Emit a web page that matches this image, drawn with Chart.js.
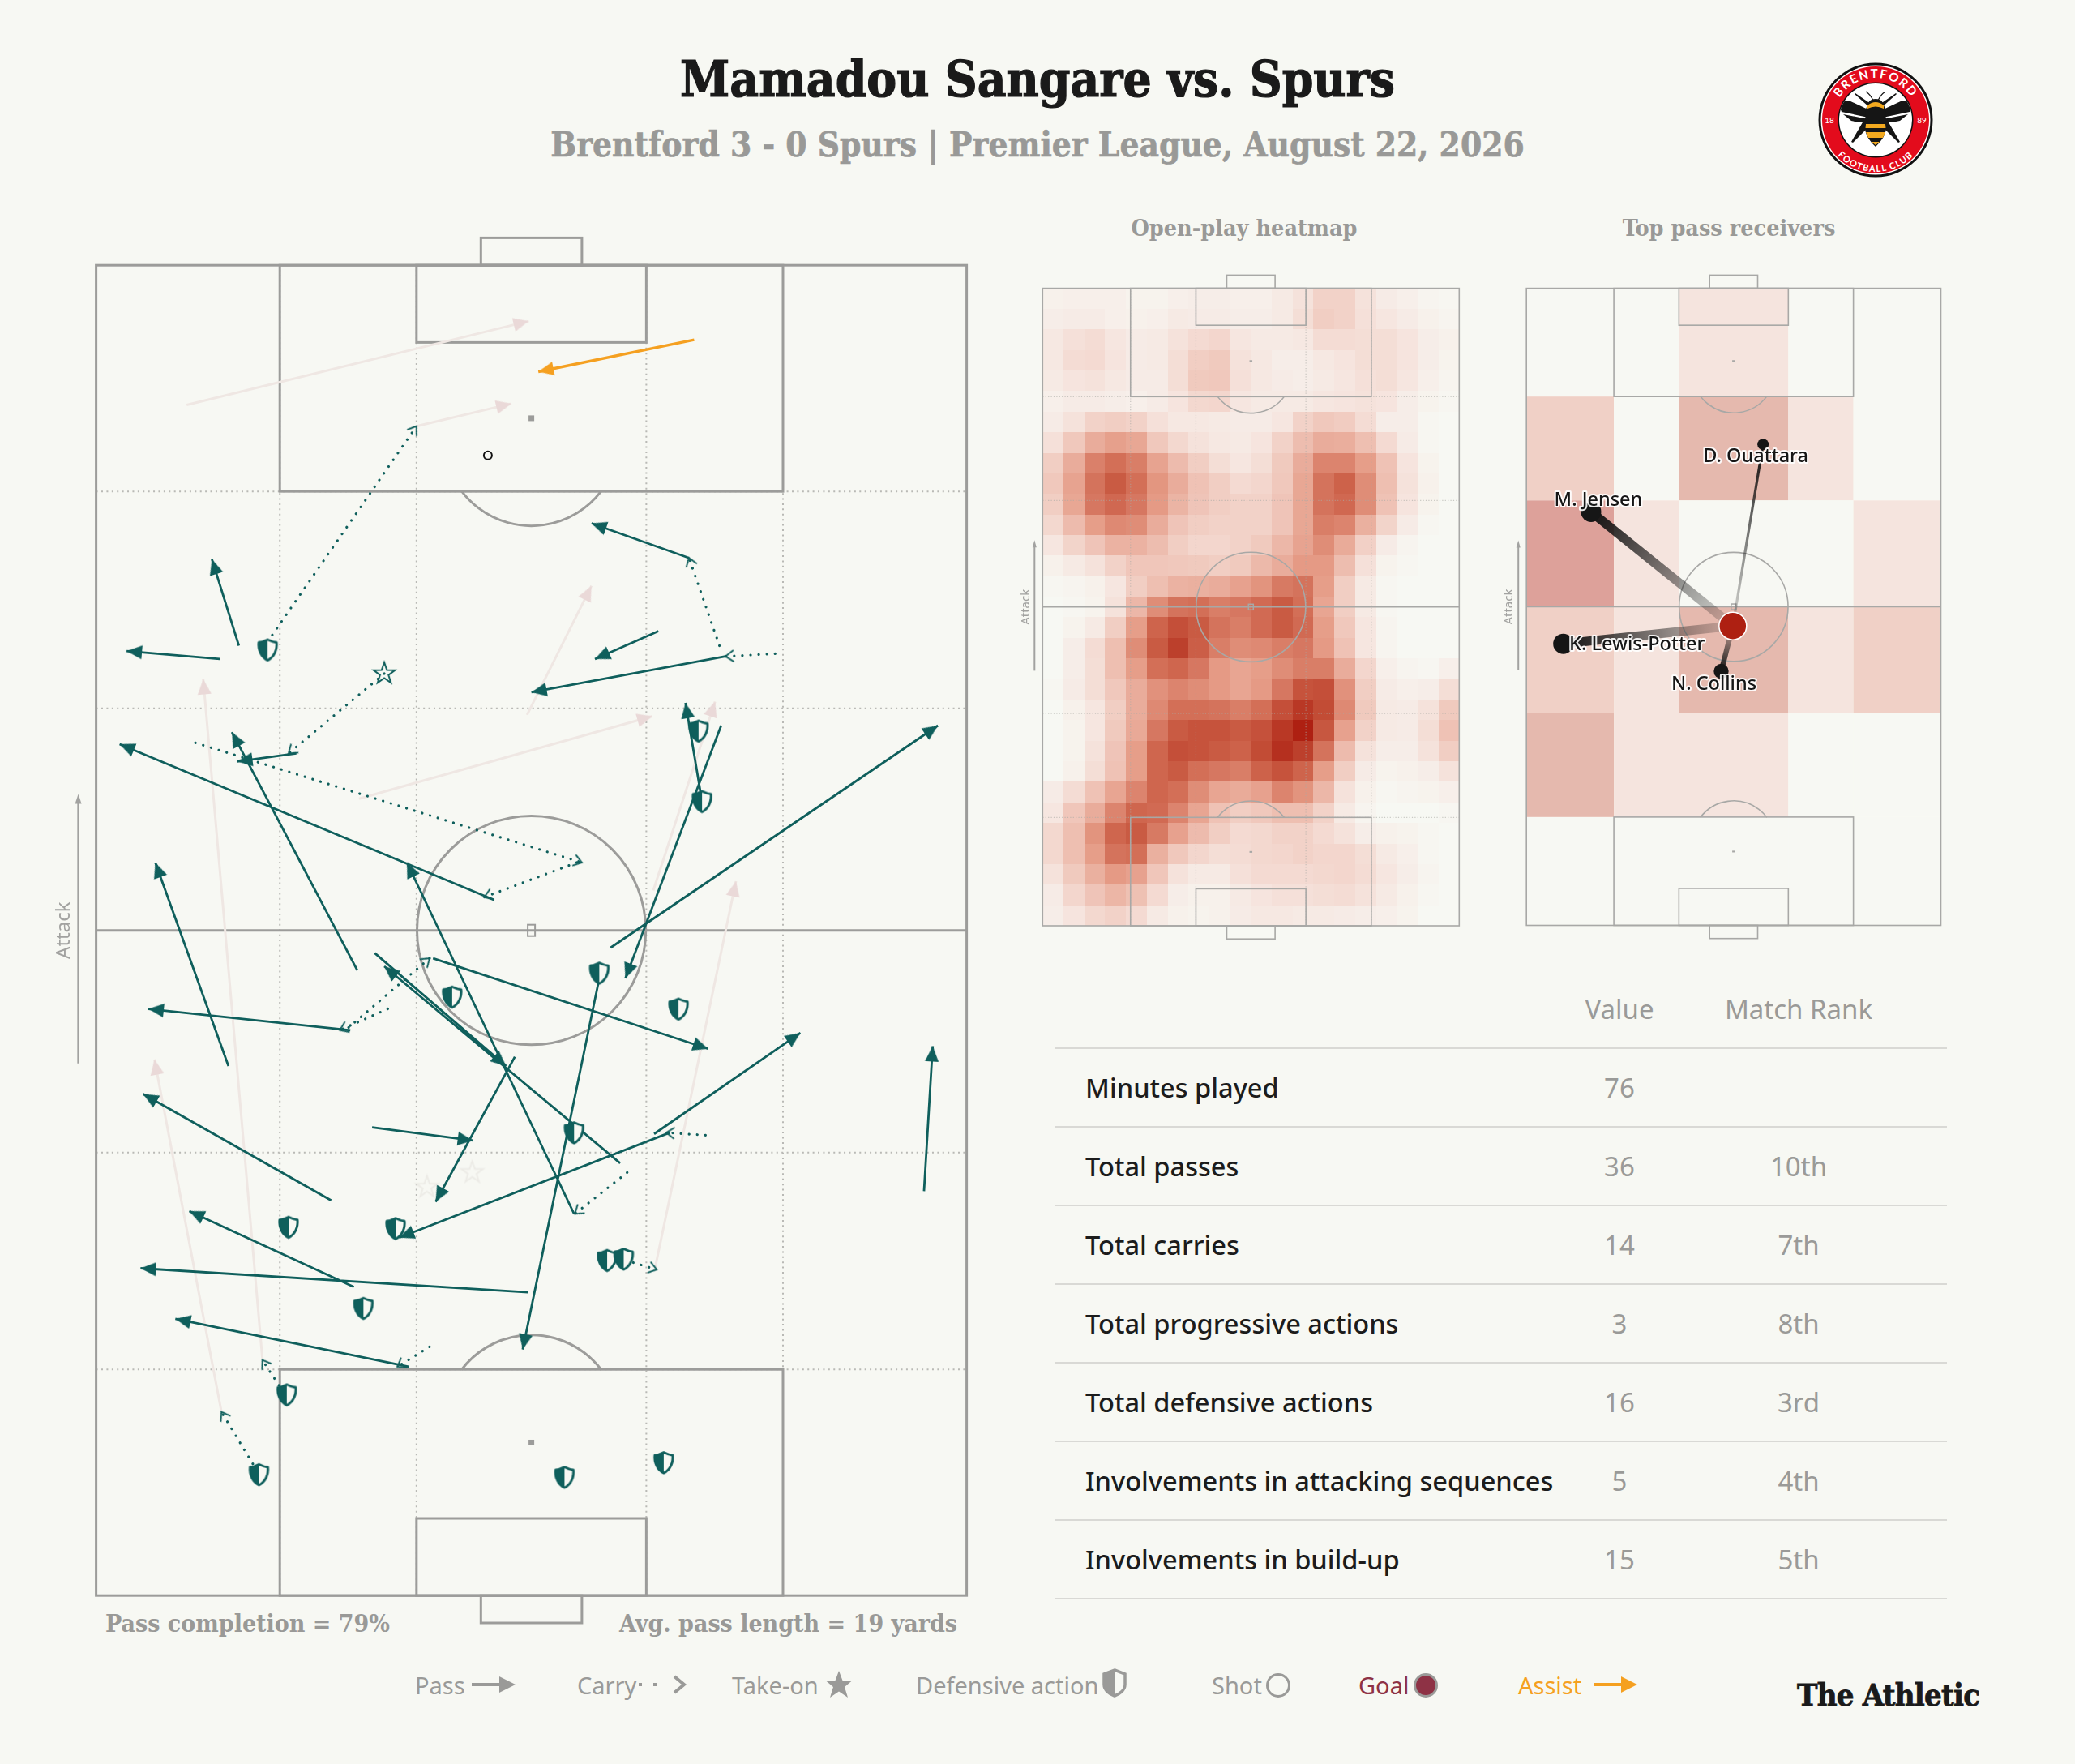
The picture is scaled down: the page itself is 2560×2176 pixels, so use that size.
<!DOCTYPE html>
<html>
<head>
<meta charset="utf-8">
<script src="https://cdn.jsdelivr.net/npm/chart.js@4"></script>
<style>
html,body{margin:0;padding:0;background:#f7f8f3;}
#page{position:relative;width:2560px;height:2176px;overflow:hidden;background:#f7f8f3;font-family:"Noto Sans",sans-serif;}
canvas{position:absolute;}
.t{position:absolute;white-space:nowrap;transform:translateY(-50%);}
.c{transform:translate(-50%,-50%);}
.slab{font-family:"DejaVu Serif",serif;font-weight:700;font-stretch:condensed;}
.grey{color:#999997;}
.stat{font-size:32.6px;color:#1c1c1c;font-weight:500;}
.num{font-size:33px;color:#9a9a98;}
.rule{position:absolute;left:1301px;width:1101px;height:2px;background:#d9d9d5;}
.leg{font-size:29px;color:#9a9a98;}
svg{position:absolute;}
</style>
</head>
<body>
<div id="page">
  <div class="t c slab" style="left:1280px;top:97px;font-size:61.5px;color:#1a1a1a;-webkit-text-stroke:1.2px #1a1a1a;">Mamadou Sangare vs. Spurs</div>
  <div class="t c slab grey" style="left:1280px;top:178px;font-size:42px;-webkit-text-stroke:.6px #999997;">Brentford 3 - 0 Spurs | Premier League, August 22, 2026</div>
  <div class="t c slab grey" style="left:1535px;top:281px;font-size:28.5px;">Open-play heatmap</div>
  <div class="t c slab grey" style="left:2133px;top:281px;font-size:28.5px;">Top pass receivers</div>
  <div class="t slab grey" style="left:130px;top:2002px;font-size:30px;">Pass completion = 79%</div>
  <div class="t slab grey" style="left:764px;top:2002px;font-size:30px;">Avg. pass length = 19 yards</div>

  <canvas id="mainPitch" style="left:40px;top:280px;"></canvas>
  <canvas id="heatPitch" style="left:1240px;top:320px;"></canvas>
  <canvas id="recvPitch" style="left:1843px;top:320px;"></canvas>

  <div id="table"></div>

  <div class="t leg" style="left:512px;top:2078px;">Pass</div>
  <svg style="left:580px;top:2064px;" width="60" height="28"><path d="M2 14H40" stroke="#9a9a98" stroke-width="4"/><path d="M36 4L56 14L36 24Z" fill="#9a9a98"/></svg>
  <div class="t leg" style="left:712px;top:2078px;">Carry</div>
  <svg style="left:784px;top:2064px;" width="66" height="28"><path d="M4 14H36" stroke="#9a9a98" stroke-width="4" stroke-dasharray="4 14"/><path d="M48 4L60 14L48 24" fill="none" stroke="#9a9a98" stroke-width="4"/></svg>
  <div class="t leg" style="left:903px;top:2078px;">Take-on</div>
  <svg style="left:1017px;top:2060px;" width="36" height="36"><path d="M18 1L22.5 13H34.5L25 21L29 34L18 26.5L7 34L11 21L1.5 13H13.5Z" fill="#9a9a98"/></svg>
  <div class="t leg" style="left:1130px;top:2078px;">Defensive action</div>
  <svg style="left:1358px;top:2058px;" width="34" height="36"><path d="M17 2L30 7V20C30 27 23 32 17 34C11 32 4 27 4 20V7Z" fill="#f7f8f3" stroke="#9a9a98" stroke-width="3.5"/><path d="M17 2L4 7V20C4 27 11 32 17 34Z" fill="#9a9a98"/></svg>
  <div class="t leg" style="left:1495px;top:2078px;">Shot</div>
  <svg style="left:1560px;top:2062px;" width="34" height="34"><circle cx="17" cy="17" r="13.5" fill="none" stroke="#9a9a98" stroke-width="3"/></svg>
  <div class="t leg" style="left:1676px;top:2078px;color:#8e3245;">Goal</div>
  <svg style="left:1742px;top:2062px;" width="34" height="34"><circle cx="17" cy="17" r="13.5" fill="#8e3245" stroke="#9a9a98" stroke-width="3"/></svg>
  <div class="t leg" style="left:1873px;top:2078px;color:#f5a020;">Assist</div>
  <svg style="left:1964px;top:2064px;" width="60" height="28"><path d="M2 14H40" stroke="#f5a020" stroke-width="4"/><path d="M36 4L56 14L36 24Z" fill="#f5a020"/></svg>
  <div class="t slab" style="left:2217px;top:2090px;font-size:38px;color:#1a1a1a;letter-spacing:-.8px;-webkit-text-stroke:.8px #1a1a1a;">The Athletic</div>

  <svg style="left:2243px;top:77px;" width="142" height="142" viewBox="-71 -71 142 142">
    <defs>
      <path id="arcTop" d="M-52 0A52 52 0 0 1 52 0"/>
      <path id="arcBot" d="M-64 0A64 64 0 0 0 64 0"/>
      <clipPath id="inner"><circle r="45"/></clipPath>
    </defs>
    <circle r="70.5" fill="#111"/>
    <circle r="67.5" fill="#fff"/>
    <circle r="66" fill="#e30b1c"/>
    <circle r="46.5" fill="#111"/>
    <circle r="45" fill="#fff"/>
    <text font-family="Lato,sans-serif" font-weight="700" font-size="15" fill="#fff" letter-spacing="1.8" text-anchor="middle"><textPath href="#arcTop" startOffset="50%">BRENTFORD</textPath></text>
    <text font-family="Lato,sans-serif" font-weight="700" font-size="11" fill="#fff" letter-spacing="1.4" text-anchor="middle"><textPath href="#arcBot" startOffset="50%">FOOTBALL CLUB</textPath></text>
    <text x="-57" y="4" font-family="Lato,sans-serif" font-size="10" fill="#fff" text-anchor="middle">18</text>
    <text x="57" y="4" font-family="Lato,sans-serif" font-size="10" fill="#fff" text-anchor="middle">89</text>
    <g clip-path="url(#inner)">
      <path d="M-47 -23L-33 -24L-3 -10L-4 -2L-42 -10ZM47 -23L33 -24L3 -10L4 -2L42 -10Z" fill="#151515"/>
      <path d="M-40 -7L-4 0L-20 3L-30 1ZM40 -7L4 0L20 3L30 1Z" fill="#151515"/>
      <path d="M-12 -4L-30 27L-28 28L-8 8ZM12 -4L30 27L28 28L8 8Z" fill="#151515"/>
      <path d="M-8 -16L-26 -32L-25 -33L-6 -20ZM8 -16L26 -32L25 -33L6 -20Z" fill="#151515"/>
      <path d="M-3 -24Q-6 -31 -12 -35M3 -24Q6 -31 12 -35" fill="none" stroke="#151515" stroke-width="1.3"/>
      <path d="M0 -26C8 -26 10 -20 11 -16C14 -10 13 -4 11 0C15 8 14 20 0 33C-14 20 -15 8 -11 0C-13 -4 -14 -10 -11 -16C-10 -20 -8 -26 0 -26Z" fill="#151515"/>
      <path d="M-10 -18Q0 -26 10 -18L10 -14Q0 -19 -10 -14Z" fill="#f3a91f"/>
      <path d="M-12 5H12L12.5 10H-12.5ZM-12 15H12L9 22H-9ZM-5 27H5L0 31Z" fill="#f3a91f"/>
    </g>
  </svg>
</div>

<script>
// all pitch values in % of pitch, x across, y towards the goal being attacked
// [startX, startY, endX, endY]
const passes = [
  [16.4,71.4,13.3,77.9],[14.2,70.4,3.5,71.0],[64.6,72.5,57.3,70.4],[72.3,70.6,50.0,67.9],
  [68.1,78.0,56.9,80.6],[23.0,63.3,16.2,62.7],[45.7,52.3,2.7,64.0],[30.0,47.0,15.6,64.9],
  [15.2,39.8,6.8,55.1],[71.8,65.4,60.8,46.4],[69.6,59.7,67.7,67.1],[59.1,48.7,96.7,65.4],
  [32.0,48.3,47.1,39.8],[60.2,32.5,33.1,47.3],[54.9,28.7,35.7,55.1],[38.7,47.9,70.3,41.1],
  [57.8,46.4,49.0,18.5],[29.2,42.5,6.0,44.1],[48.1,40.5,39.0,29.6],[31.7,35.2,43.3,34.2],
  [27.0,29.7,5.4,37.7],[64.1,34.7,80.9,42.3],[65.9,34.8,34.8,26.9],[95.1,30.4,96.1,41.3],
  [29.6,23.2,10.7,28.9],[49.6,22.8,5.1,24.6],[35.9,17.2,9.1,20.8]
];
const failedPasses = [
  [10.4,89.5,49.7,95.8],[36.8,87.9,47.7,89.6],[49.5,66.2,56.9,75.9],[30.2,59.9,63.9,66.1],
  [19.1,17.8,12.3,68.9],[64.0,53.0,71.1,67.2],[64.2,24.6,73.5,53.7],[14.4,13.8,6.7,40.3]
];
const assists = [[68.7,94.4,50.8,92.0]];
const carries = [
  [19.7,71.7,36.8,87.9],[78.0,70.8,72.3,70.6],[71.6,71.4,68.1,78.0],[33.1,69.3,22.1,63.3],
  [11.4,64.1,55.8,55.1],[55.2,55.1,44.6,52.5],[33.5,44.1,28.0,42.5],[29.0,42.7,38.3,47.9],
  [61.0,31.8,55.0,28.7],[70.0,34.6,65.5,34.8],[60.8,25.2,64.4,24.5],[38.3,18.7,34.6,17.2],
  [21.0,15.8,19.1,17.7],[18.0,9.9,14.4,13.8]
];
const defActionX = [19.7,69.2,69.6,40.9,57.8,66.9,54.9,22.1,34.4,58.7,60.6,30.7,21.9,18.7,53.8,65.2];
const defActionY = [71.1,65.0,59.7,45.0,46.8,44.1,34.8,27.7,27.6,25.2,25.3,21.6,15.1,9.1,8.9,10.0];
const takeOnX = [33.1];
const takeOnY = [69.3];
const failedTakeOnX = [38.0,43.2];
const failedTakeOnY = [30.7,31.8];
const shotX = [45.0];
const shotY = [85.7];

// open-play touch density, 31 rows top to bottom, 20 columns left to right
const heatValues = [
  [4,5,5,5,3,3,5,6,6,5,5,8,12,20,20,12,7,5,2,1],
  [6,7,7,5,4,5,8,7,7,6,6,8,14,22,20,13,10,7,4,2],
  [9,13,15,10,7,8,12,16,18,10,8,8,9,15,15,14,14,11,6,4],
  [9,15,16,11,7,8,14,22,24,12,9,6,6,9,11,14,14,11,6,3],
  [8,11,12,9,7,7,14,24,25,13,9,7,6,8,10,13,14,10,5,2],
  [5,7,7,6,5,7,11,17,18,10,8,8,8,10,11,12,11,6,3,1],
  [7,12,20,22,20,13,9,9,8,7,7,10,20,25,23,15,6,6,1,0],
  [13,25,40,47,43,25,17,12,9,8,11,20,31,40,39,30,16,7,1,0],
  [22,40,62,70,63,45,32,22,14,10,14,24,40,60,60,48,28,11,3,0],
  [25,45,68,80,70,52,40,28,22,16,18,25,43,68,76,56,30,12,4,0],
  [22,43,66,73,66,50,36,27,22,20,20,27,43,68,73,56,28,11,3,0],
  [17,32,48,58,56,40,27,22,20,20,20,27,43,63,60,38,19,7,1,0],
  [10,19,27,37,37,31,22,18,18,20,24,34,45,56,41,21,7,2,0,0],
  [4,8,12,20,26,26,25,24,22,24,33,40,50,50,31,13,3,1,0,0],
  [1,2,4,10,22,30,37,38,40,46,53,65,68,48,22,8,1,0,0,0],
  [0,1,3,12,34,56,68,70,63,66,72,80,70,44,22,8,1,0,0,0],
  [0,3,8,22,48,75,86,80,68,63,72,80,72,48,25,10,2,0,0,0],
  [0,6,15,30,56,80,92,78,63,56,58,63,66,50,28,10,2,0,0,0],
  [0,6,14,30,48,70,74,66,50,44,48,56,63,63,40,18,5,2,1,5],
  [1,7,14,25,40,54,60,56,50,44,50,66,84,86,54,22,7,5,6,14],
  [0,4,10,22,40,58,70,70,68,63,70,86,94,88,58,24,8,7,12,24],
  [0,3,10,24,42,66,80,84,84,80,85,94,100,82,46,20,8,7,14,28],
  [0,3,12,27,48,74,86,84,80,76,88,96,92,68,32,12,6,6,12,22],
  [0,4,14,28,48,74,80,70,66,63,76,84,75,48,22,7,3,4,6,12],
  [7,15,28,44,60,74,70,56,44,41,46,60,53,34,12,4,1,2,3,5],
  [10,26,40,60,74,72,60,44,28,22,25,30,30,20,8,2,0,0,0,1],
  [17,30,53,74,80,65,46,32,22,16,17,20,20,16,12,6,4,3,1,0],
  [17,30,48,68,70,38,25,18,14,15,17,18,20,18,18,14,8,5,1,0],
  [12,24,38,50,46,26,12,8,8,13,16,16,16,17,18,15,10,6,2,0],
  [7,18,27,35,29,16,6,4,4,8,11,13,13,14,15,12,8,4,1,0],
  [6,11,17,20,16,8,4,3,4,7,9,9,8,8,7,6,5,3,0,0]
];

// pass zones, edges in % of pitch, rows top to bottom
const zoneXEdges = [0,21.1,36.8,63.2,78.9,100];
const zoneYEdges = [100,83,66.7,50,33.3,17,0];
const zoneCounts = [
  [0,0,1,0,0],
  [2,0,3,1,0],
  [4,1,0,0,1],
  [2,1,3,1,2],
  [3,1,1,0,0],
  [0,0,0,0,0]
];

const playerX = 49.8;
const playerY = 47.0;
const receiverNames = ["M. Jensen","K. Lewis-Potter","D. Ouattara","N. Collins"];
const receiverX = [15.6,8.9,57.1,47.0];
const receiverY = [64.9,44.2,75.5,39.9];
const receiverPasses = [7,7,2,4];

const statLabels = ["Minutes played","Total passes","Total carries","Total progressive actions","Total defensive actions","Involvements in attacking sequences","Involvements in build-up"];
const statValues = ["76","36","14","3","16","5","15"];
const statRanks = ["","10th","7th","8th","3rd","4th","5th"];

const TEAL = "#0f5f5c";
const BG = "#f7f8f3";

function sprite(size,draw){
  const c = document.createElement("canvas");
  c.width = c.height = size;
  const g = c.getContext("2d");
  g.translate(size/2,size/2);
  draw(g);
  return c;
}
// arrowheads have the tip on the sprite centre, pointing up
function head(color){
  return sprite(48,g=>{
    g.fillStyle = color;
    g.beginPath();g.moveTo(0,0);g.lineTo(-8.5,19);g.lineTo(8.5,19);g.closePath();g.fill();
  });
}
function chevron(color){
  return sprite(40,g=>{
    g.strokeStyle = color;g.lineWidth = 2;
    g.beginPath();g.moveTo(-7,10);g.lineTo(0,0);g.lineTo(7,10);g.stroke();
  });
}
function shieldPath(g){
  g.moveTo(0,-12.5);
  g.quadraticCurveTo(6,-9.5,11,-9);
  g.bezierCurveTo(12,0,8,9,0,13);
  g.bezierCurveTo(-8,9,-12,0,-11,-9);
  g.quadraticCurveTo(-6,-9.5,0,-12.5);
}
function shield(color){
  return sprite(40,g=>{
    g.beginPath();shieldPath(g);g.closePath();
    g.fillStyle = BG;g.fill();
    g.strokeStyle = color;g.lineWidth = 3;g.lineJoin = "round";g.stroke();
    g.save();
    g.beginPath();g.rect(-16,-16,16,32);g.clip();
    g.beginPath();shieldPath(g);g.closePath();
    g.fillStyle = color;g.fill();
    g.restore();
  });
}
function star(color){
  return sprite(40,g=>{
    g.beginPath();
    for(let i=0;i<10;i++){
      const r = i%2 ? 5.5 : 14, a = -Math.PI/2+i*Math.PI/5;
      g.lineTo(r*Math.cos(a),r*Math.sin(a));
    }
    g.closePath();g.strokeStyle = color;g.lineWidth = 2;g.stroke();
  });
}

function segments(rows){
  const out = [];
  rows.forEach(r=>{out.push({x:r[0],y:r[1]},{x:r[2],y:r[3]},{x:null,y:null});});
  return out;
}
function headAngle(ctx){
  const d = ctx.dataset.data, i = ctx.dataIndex;
  if(i%3!==1) return 0;
  const sx = ctx.chart.scales.x, sy = ctx.chart.scales.y;
  const dx = sx.getPixelForValue(d[i].x)-sx.getPixelForValue(d[i-1].x);
  const dy = sy.getPixelForValue(d[i].y)-sy.getPixelForValue(d[i-1].y);
  return Math.atan2(dx,-dy)*180/Math.PI;
}
function arrowSet(rows,color,width,endMark,extra){
  return Object.assign({
    data:segments(rows),showLine:true,spanGaps:false,clip:false,
    borderColor:color,borderWidth:width,
    pointStyle:endMark,
    pointRadius:c=>c.dataIndex%3===1?10:0,
    pointHoverRadius:0,
    pointRotation:headAngle
  },extra||{});
}
function markSet(xs,ys,mark){
  return {data:xs.map((x,i)=>({x:x,y:ys[i]})),showLine:false,clip:false,pointStyle:mark,pointRadius:12};
}
function pitchScales(){
  return {
    x:{type:"linear",min:0,max:100,display:false},
    y:{type:"linear",min:0,max:100,display:false}
  };
}

// pitch markings and the attack arrow, all placed through the chart scales
const pitchPlugin = {
  id:"pitch",
  beforeDatasetsDraw(chart,args,opts){
    const g = chart.ctx, X = chart.scales.x, Y = chart.scales.y, a = chart.chartArea;
    const px = v=>X.getPixelForValue(v), py = v=>Y.getPixelForValue(v);
    const s = a.width/1073;
    g.save();
    if(opts.cells) opts.cells(g,px,py);
    if(opts.dotted){
      g.strokeStyle = opts.dotted;g.lineWidth = Math.max(1.2,2*s);g.setLineDash([Math.max(1.2,2*s),Math.max(2.2,4.4*s)]);
      [21.1,36.8,63.2,78.9].forEach(v=>{g.beginPath();g.moveTo(px(v),py(0));g.lineTo(px(v),py(100));g.stroke();});
      [17,33.3,66.7,83].forEach(v=>{g.beginPath();g.moveTo(px(0),py(v));g.lineTo(px(100),py(v));g.stroke();});
      g.setLineDash([]);
    }
    g.strokeStyle = opts.line;g.lineWidth = opts.width;
    const rect = (x0,y0,x1,y1)=>g.strokeRect(px(x0),py(y1),px(x1)-px(x0),py(y0)-py(y1));
    rect(0,0,100,100);
    g.beginPath();g.moveTo(px(0),py(50));g.lineTo(px(100),py(50));g.stroke();
    rect(21.1,83,78.9,100);rect(36.8,94.2,63.2,100);rect(44.2,100,55.8,102.06);
    rect(21.1,0,78.9,17);rect(36.8,0,63.2,5.8);rect(44.2,-2.06,55.8,0);
    const R = 141*s;
    g.beginPath();g.arc(px(50),py(50),R,0,Math.PI*2);g.stroke();
    const dR = 108*s, half = 52.8*Math.PI/180;
    g.beginPath();g.arc(px(50),py(87),dR,Math.PI/2-half,Math.PI/2+half);g.stroke();
    g.beginPath();g.arc(px(50),py(13),dR,-Math.PI/2-half,-Math.PI/2+half);g.stroke();
    g.fillStyle = opts.line;
    const sp = Math.max(3.5,7*s);
    [88.5,11.5].forEach(v=>g.fillRect(px(50)-sp/2,py(v)-sp/2,sp,sp*(s<1?.6:1)));
    g.lineWidth = Math.max(1.5,2*s);
    g.strokeRect(px(50)-Math.max(3,4.5*s),py(50)-Math.max(3.5,7*s),Math.max(6,9*s),Math.max(7,14*s));
    // attack arrow
    const ax = a.left-opts.arrowGap, tx = a.left-opts.textGap;
    const midY = py(50);
    g.strokeStyle = "#a2a2a0";g.fillStyle = "#a2a2a0";g.lineWidth = opts.arrowW;
    g.beginPath();g.moveTo(ax,midY+164*s);g.lineTo(ax,midY-164*s+4);g.stroke();
    g.beginPath();g.moveTo(ax,midY-164*s-4);g.lineTo(ax-opts.arrowH,midY-164*s+opts.arrowH*2);g.lineTo(ax+opts.arrowH,midY-164*s+opts.arrowH*2);g.closePath();g.fill();
    g.translate(tx,midY);g.rotate(-Math.PI/2);
    g.fillStyle = "#a2a2a0";g.font = opts.textFont;g.textAlign = "center";g.textBaseline = "middle";
    g.fillText("Attack",0,0);
    g.restore();
  }
};

const heatStops = [[0,[247,248,243]],[10,[246,230,224]],[25,[240,200,188]],[50,[229,154,133]],[75,[206,100,76]],[90,[192,72,50]],[100,[174,32,18]]];
function heatColor(v){
  let i = 0;
  while(i<heatStops.length-2 && v>heatStops[i+1][0]) i++;
  const a = heatStops[i], b = heatStops[i+1], t = (v-a[0])/(b[0]-a[0]);
  return "rgb("+a[1].map((c,k)=>Math.round(c+(b[1][k]-c)*t)).join(",")+")";
}
function drawHeat(g,px,py){
  const rows = heatValues.length, cols = heatValues[0].length;
  heatValues.forEach((row,r)=>row.forEach((v,c)=>{
    const x0 = Math.round(px(c*100/cols)), x1 = Math.round(px((c+1)*100/cols));
    const y0 = Math.round(py(100-r*100/rows)), y1 = Math.round(py(100-(r+1)*100/rows));
    g.fillStyle = heatColor(v);
    g.fillRect(x0,y0,x1-x0,y1-y0);
  }));
}
const zoneColors = [BG,"#f5e4de","#f0d0c6","#e5b9ae","#dda19a"];
function drawZones(g,px,py){
  zoneCounts.forEach((row,r)=>row.forEach((v,c)=>{
    const x0 = px(zoneXEdges[c]), x1 = px(zoneXEdges[c+1]);
    const y0 = py(zoneYEdges[r]), y1 = py(zoneYEdges[r+1]);
    g.fillStyle = zoneColors[v];
    g.fillRect(x0,y0,x1-x0,y1-y0);
  }));
}

function makeChart(id,w,h,pad,datasets,pitchOpts,plugins){
  const el = document.getElementById(id);
  el.width = w;el.height = h;
  return new Chart(el,{
    type:"scatter",
    data:{datasets:datasets},
    options:{
      responsive:false,animation:false,
      layout:{padding:pad},
      scales:pitchScales(),
      elements:{line:{tension:0}},
      plugins:{legend:{display:false},tooltip:{enabled:false},pitch:pitchOpts}
    },
    plugins:[pitchPlugin].concat(plugins||[])
  });
}

// main pass map, first dataset ends up on top
makeChart("mainPitch",1200,1730,{left:78.6,right:47.4,top:47.2,bottom:41.8},[
  markSet(shotX,shotY,"circle"),
  markSet(takeOnX,takeOnY,star(TEAL)),
  markSet(defActionX,defActionY,shield(TEAL)),
  arrowSet(assists,"#f5a020",3.4,head("#f5a020")),
  arrowSet(passes,TEAL,2.8,head(TEAL)),
  arrowSet(carries,TEAL,3.2,chevron(TEAL),{borderDash:[0.1,10],borderCapStyle:"round"}),
  arrowSet(failedPasses,"#efe7e3",3,head("#ead9d8")),
  markSet(failedTakeOnX,failedTakeOnY,star("#ecebe6"))
].map((d,i)=>{
  if(i===0){d.pointRadius = 5;d.borderColor = "#111";d.backgroundColor = "rgba(0,0,0,0)";d.borderWidth = 2;}
  return d;
}),{line:"#9c9c9a",width:3,dotted:"#b9b9b5",arrowGap:22,textGap:39,arrowW:2.5,arrowH:4,textFont:"24px 'Noto Sans'"});

// heatmap
makeChart("heatPitch",600,840,{left:46.3,right:39.7,top:35.6,bottom:18},[
  {data:[],showLine:false}
],{line:"#a8a8a6",width:1.6,dotted:"rgba(170,170,165,.6)",cells:drawHeat,arrowGap:10,textGap:21,arrowW:2,arrowH:2.5,textFont:"15px 'Noto Sans'"});

// receivers: line fades in from the player to the receiver
function fadeLine(i){
  return {
    data:[{x:receiverX[i],y:receiverY[i]},{x:playerX,y:playerY}],
    showLine:true,clip:false,pointRadius:0,
    borderWidth:receiverPasses[i]*1.6,
    borderColor:c=>{
      const X = c.chart.scales.x, Y = c.chart.scales.y;
      const x0 = X.getPixelForValue(receiverX[i]), y0 = Y.getPixelForValue(receiverY[i]);
      const x1 = X.getPixelForValue(playerX), y1 = Y.getPixelForValue(playerY);
      if(![x0,y0,x1,y1].every(Number.isFinite)) return "#161616"; // scales not laid out yet
      const gr = c.chart.ctx.createLinearGradient(x0,y0,x1,y1);
      gr.addColorStop(0,"rgba(20,20,20,1)");
      gr.addColorStop(1,"rgba(20,20,20,.12)");
      return gr;
    }
  };
}
const nameOffsets = [[9,-14],[91,1],[-9,15],[-9,16]];
const labelPlugin = {
  id:"names",
  afterDatasetsDraw(chart){
    const g = chart.ctx, X = chart.scales.x, Y = chart.scales.y;
    g.save();
    g.font = "500 23.5px 'Noto Sans'";g.textAlign = "center";g.textBaseline = "middle";
    g.lineJoin = "round";g.lineWidth = 4;g.strokeStyle = "rgba(255,255,255,.9)";g.fillStyle = "#161616";
    receiverNames.forEach((n,i)=>{
      const x = X.getPixelForValue(receiverX[i])+nameOffsets[i][0], y = Y.getPixelForValue(receiverY[i])+nameOffsets[i][1];
      g.strokeText(n,x,y);g.fillText(n,x,y);
    });
    g.restore();
  }
};
makeChart("recvPitch",570,840,{left:40.2,right:13.5,top:35.6,bottom:18},[
  {data:[{x:playerX,y:playerY}],showLine:false,clip:false,pointStyle:"circle",pointRadius:17,backgroundColor:"#ae2012",borderColor:"#fff",borderWidth:1.5},
  {data:receiverX.map((x,i)=>({x:x,y:receiverY[i]})),showLine:false,clip:false,pointStyle:"circle",
   pointRadius:receiverPasses.map(v=>4.8+1.1*v),backgroundColor:"#161616",borderColor:"#161616",borderWidth:0},
  fadeLine(0),fadeLine(1),fadeLine(2),fadeLine(3)
],{line:"#a8a8a6",width:1.6,cells:drawZones,arrowGap:10,textGap:21,arrowW:2,arrowH:2.5,textFont:"15px 'Noto Sans'"},[labelPlugin]);

// stats table
const table = document.getElementById("table");
function addText(cls,x,y,txt){
  const d = document.createElement("div");
  d.className = "t "+cls;d.style.left = x+"px";d.style.top = y+"px";d.textContent = txt;
  table.appendChild(d);
}
addText("c num",1998,1244,"Value");
addText("c num",2219,1244,"Match Rank");
const firstLine = 1292, rowH = 97;
for(let i=0;i<=statLabels.length;i++){
  const r = document.createElement("div");
  r.className = "rule";r.style.top = Math.round(firstLine+i*rowH)+"px";
  table.appendChild(r);
}
statLabels.forEach((s,i)=>{
  const y = firstLine+rowH*(i+.5);
  addText("stat",1339,y,s);
  addText("c num",1998,y,statValues[i]);
  addText("c num",2219,y,statRanks[i]);
});
</script>
</body>
</html>
